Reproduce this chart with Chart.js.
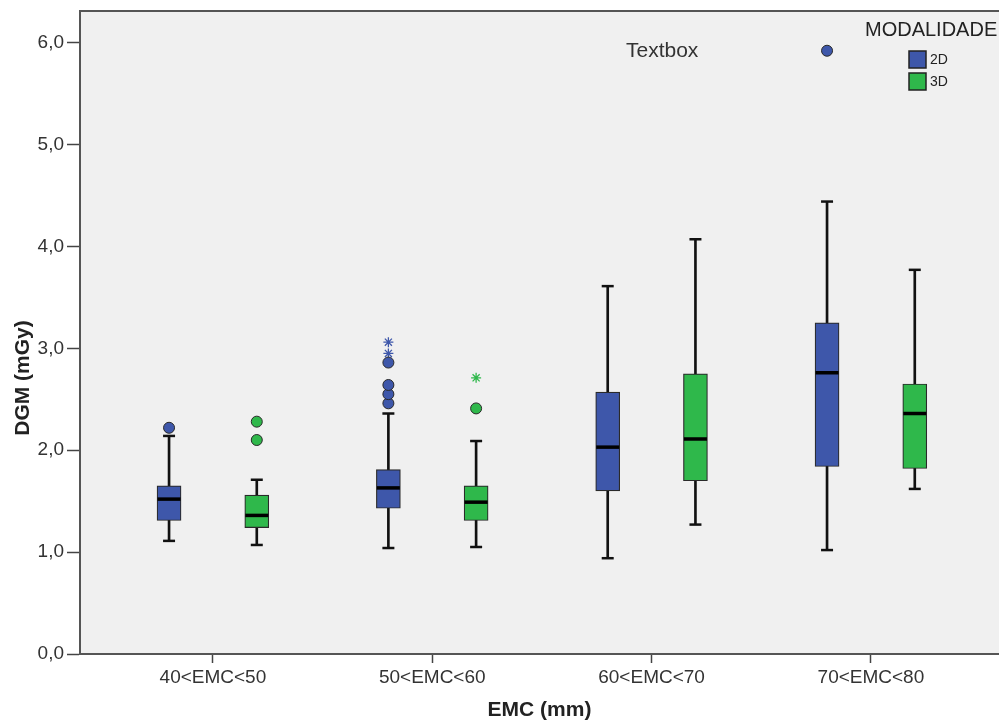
<!DOCTYPE html>
<html>
<head>
<meta charset="utf-8">
<title>DGM por EMC</title>
<script src="https://cdn.jsdelivr.net/npm/chart.js@4"></script>
<style>
  html, body { margin: 0; padding: 0; background: #fff; }
  #wrap { width: 999px; height: 725px; }
</style>
</head>
<body>
<div id="wrap"><canvas id="chart" width="999" height="725"></canvas></div>
<script>
const categories = ['40<EMC<50', '50<EMC<60', '60<EMC<70', '70<EMC<80'];
const groups = ['2D', '3D'];

// [lower whisker, Q1, median, Q3, upper whisker] per category
const stats2D = [
  [1.11, 1.31, 1.52, 1.65, 2.14],
  [1.04, 1.43, 1.63, 1.81, 2.36],
  [0.94, 1.60, 2.03, 2.57, 3.61],
  [1.02, 1.84, 2.76, 3.25, 4.44]
];
const stats3D = [
  [1.07, 1.24, 1.36, 1.56, 1.71],
  [1.05, 1.31, 1.49, 1.65, 2.09],
  [1.27, 1.70, 2.11, 2.75, 4.07],
  [1.62, 1.82, 2.36, 2.65, 3.77]
];
// circles (outliers) and stars (extremes)
const outliers2D = [[2.22], [2.46, 2.55, 2.64, 2.86], [], [5.92]];
const extremes2D = [[], [2.95, 3.06], [], []];
const outliers3D = [[2.10, 2.28], [2.41], [], []];
const extremes3D = [[], [2.71], [], []];

const yTicks = [0, 1, 2, 3, 4, 5, 6];

const colors = { '2D': '#3e57aa', '3D': '#2fb84b' };
const offsets = { '2D': -0.2, '3D': 0.2 };
const FONT = "'Liberation Sans', Arial, sans-serif";

function groupDatasets(name, stats, outl, extr) {
  const off = offsets[name];
  const col = colors[name];
  return [
    {
      type: 'bar', label: name + ' whisker', order: 4, grouped: false,
      data: stats.map((s, i) => ({ x: i + off, y: [s[0], s[4]] })),
      backgroundColor: '#111', barThickness: 2
    },
    {
      type: 'bar', label: name, order: 3, grouped: false,
      data: stats.map((s, i) => ({ x: i + off, y: [s[1], s[3]] })),
      backgroundColor: col, borderColor: '#2a2a2a', borderWidth: 1.2,
      borderSkipped: false, barThickness: 24
    },
    {
      type: 'scatter', label: name + ' caps', order: 2,
      data: stats.flatMap((s, i) => [{ x: i + off, y: s[0] }, { x: i + off, y: s[4] }]),
      pointStyle: 'line', pointRadius: 6, borderColor: '#111', borderWidth: 2.5
    },
    {
      type: 'scatter', label: name + ' median', order: 1,
      data: stats.map((s, i) => ({ x: i + off, y: s[2] })),
      pointStyle: 'line', pointRadius: 11.5, borderColor: '#000', borderWidth: 3.5
    },
    {
      type: 'scatter', label: name + ' outliers', order: 0,
      data: outl.flatMap((vals, i) => vals.map(v => ({ x: i + off, y: v }))),
      pointStyle: 'circle', pointRadius: 5.5, backgroundColor: col,
      borderColor: '#2a2a2a', borderWidth: 1
    },
    {
      type: 'scatter', label: name + ' extremes', order: 0,
      data: extr.flatMap((vals, i) => vals.map(v => ({ x: i + off, y: v }))),
      pointStyle: 'star', pointRadius: 5, borderColor: col, borderWidth: 1.3
    }
  ];
}

const frame = {
  id: 'frame',
  beforeDraw(chart) {
    const { ctx, chartArea: a } = chart;
    ctx.save();
    ctx.fillStyle = '#f0f0f0';
    ctx.fillRect(a.left, a.top, a.right - a.left, a.bottom - a.top);
    ctx.restore();
  },
  afterDraw(chart) {
    const { ctx, chartArea: a } = chart;
    ctx.save();
    ctx.strokeStyle = '#555';
    ctx.lineWidth = 2;
    ctx.beginPath();
    ctx.moveTo(a.left, a.top);
    ctx.lineTo(a.right, a.top);
    ctx.stroke();

    // y axis title, centred a bit below the plot middle as in the source
    ctx.fillStyle = '#222';
    ctx.font = 'bold 21px ' + FONT;
    ctx.textAlign = 'center';
    ctx.textBaseline = 'middle';
    ctx.translate(23, 378);
    ctx.rotate(-Math.PI / 2);
    ctx.fillText('DGM (mGy)', 0, 0);
    ctx.setTransform(1, 0, 0, 1, 0, 0);

    // text box annotation
    ctx.fillStyle = '#333';
    ctx.font = '21px ' + FONT;
    ctx.textAlign = 'left';
    ctx.fillText('Textbox', 626, 51);

    // legend
    ctx.fillStyle = '#222';
    ctx.font = '20px ' + FONT;
    ctx.fillText('MODALIDADE', 865, 30);
    ctx.font = '14px ' + FONT;
    groups.forEach((g, i) => {
      const y = 51 + i * 22;
      ctx.fillStyle = colors[g];
      ctx.fillRect(909, y, 17, 17);
      ctx.strokeStyle = '#222';
      ctx.lineWidth = 1.5;
      ctx.strokeRect(909, y, 17, 17);
      ctx.fillStyle = '#222';
      ctx.fillText(g, 930, y + 9);
    });
    ctx.restore();
  }
};

const datasets = [
  ...groupDatasets('2D', stats2D, outliers2D, extremes2D),
  ...groupDatasets('3D', stats3D, outliers3D, extremes3D)
];

new Chart(document.getElementById('chart'), {
  type: 'bar',
  data: { datasets },
  plugins: [frame],
  options: {
    responsive: false,
    animation: false,
    events: [],
    layout: { autoPadding: false, padding: { top: 11, right: 0, left: 0, bottom: 0 } },
    plugins: { legend: { display: false }, tooltip: { enabled: false } },
    scales: {
      x: {
        type: 'linear', min: -0.606, max: 3.584, offset: false,
        afterBuildTicks: (s) => { s.ticks = categories.map((c, i) => ({ value: i })); },
        afterFit: (s) => { s.height = 71; s.paddingLeft = 0; s.paddingRight = 0; },
        ticks: {
          callback: (v) => categories[v],
          color: '#333', font: { family: FONT, size: 19 }, padding: 3, maxRotation: 0
        },
        grid: { offset: false, drawOnChartArea: false, tickLength: 9, tickColor: '#444', tickWidth: 1.5 },
        border: { color: '#555', width: 2 },
        title: {
          display: true, text: 'EMC (mm)', color: '#222',
          font: { family: FONT, size: 21, weight: 'bold' }, padding: { top: 0, bottom: 2 }
        }
      },
      y: {
        min: 0, max: 6.31,
        afterBuildTicks: (s) => { s.ticks = yTicks.map(v => ({ value: v })); },
        afterFit: (s) => { s.width = 80; s.paddingTop = 0; s.paddingBottom = 0; },
        ticks: {
          callback: (v) => v.toFixed(1).replace('.', ','),
          color: '#333', font: { family: FONT, size: 19 }, padding: 3
        },
        grid: { drawOnChartArea: false, tickLength: 13, tickColor: '#444', tickWidth: 1.5 },
        border: { color: '#555', width: 2 },
        title: { display: false }
      }
    }
  }
});
</script>
</body>
</html>
